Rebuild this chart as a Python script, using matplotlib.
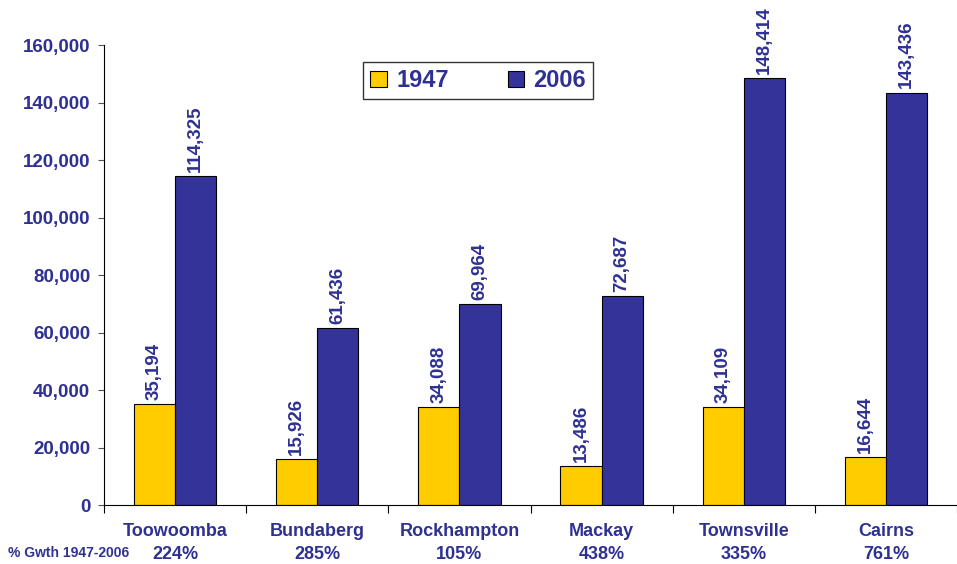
import numpy as np
import matplotlib.pyplot as plt
from matplotlib.ticker import FuncFormatter

plt.rcParams["font.family"] = ["Liberation Sans", "DejaVu Sans"]

# ── Data ─────────────────────────────────────────────────────────────────────
cities = ["Toowoomba", "Bundaberg", "Rockhampton", "Mackay", "Townsville", "Cairns"]
growth = ["224%", "285%", "105%", "438%", "335%", "761%"]
pop_1947 = [35194, 15926, 34088, 13486, 34109, 16644]
pop_2006 = [114325, 61436, 69964, 72687, 148414, 143436]

NAVY = "#2E3192"
YELLOW = "#FFCC00"
BLUE = "#333399"

fig = plt.figure(figsize=(9.57, 5.64), dpi=100)
ax = fig.add_axes([0.1087, 0.1046, 0.8913, 0.8156])

x = np.arange(len(cities))
w = 0.29
b1 = ax.bar(x - w / 2, pop_1947, w, color=YELLOW, edgecolor="black", linewidth=0.8, label="1947")
b2 = ax.bar(x + w / 2, pop_2006, w, color=BLUE, edgecolor="black", linewidth=0.8, label="2006")

# rotated value labels above each bar
for bars, vals in ((b1, pop_1947), (b2, pop_2006)):
    for r, v in zip(bars, vals):
        ax.annotate(f"{v:,}", (r.get_x() + r.get_width() / 2, v), xytext=(0, 3),
                    textcoords="offset points", rotation=90, ha="center", va="bottom",
                    color=NAVY, fontsize=13.5, fontweight="bold")

ax.set_xlim(-0.5, len(cities) - 0.5)
ax.set_ylim(0, 160000)
ax.set_yticks(np.arange(0, 160001, 20000))
ax.yaxis.set_major_formatter(FuncFormatter(lambda v, p: f"{int(v):,}"))
ax.tick_params(axis="y", direction="out", length=4, colors="#555555", labelcolor=NAVY,
               labelsize=13.5, pad=6)
for t in ax.get_yticklabels():
    t.set_fontweight("bold")

# category separators as x ticks, names + growth as text below
ax.set_xticks(np.arange(-0.5, len(cities) + 0.5, 1))
ax.set_xticklabels([])
ax.tick_params(axis="x", direction="out", length=6, colors="black")

for i, (c, g) in enumerate(zip(cities, growth)):
    ax.text(i, -0.058, c, transform=ax.get_xaxis_transform(), ha="center", va="center",
            color=NAVY, fontsize=13, fontweight="bold")
    ax.text(i, -0.108, g, transform=ax.get_xaxis_transform(), ha="center", va="center",
            color=NAVY, fontsize=13, fontweight="bold")
fig.text(0.008, 1 - 553 / 564, "% Gwth 1947-2006", ha="left", va="center",
         color=NAVY, fontsize=10, fontweight="bold")

for s in ("top", "right"):
    ax.spines[s].set_visible(False)
ax.spines["left"].set_color("black")
ax.spines["bottom"].set_color("black")

leg = ax.legend(loc="upper left", bbox_to_anchor=((363 - 104) / 853, (505 - 62) / 460),
                ncol=2, frameon=True, fancybox=False, edgecolor="black", fontsize=17,
                handlelength=0.7, handleheight=0.7, columnspacing=2.5, borderpad=0.3,
                handletextpad=0.4, borderaxespad=0)
leg.get_frame().set_linewidth(1.0)
for t in leg.get_texts():
    t.set_color(NAVY)
    t.set_fontweight("bold")

fig.savefig("out.png", dpi=100)
